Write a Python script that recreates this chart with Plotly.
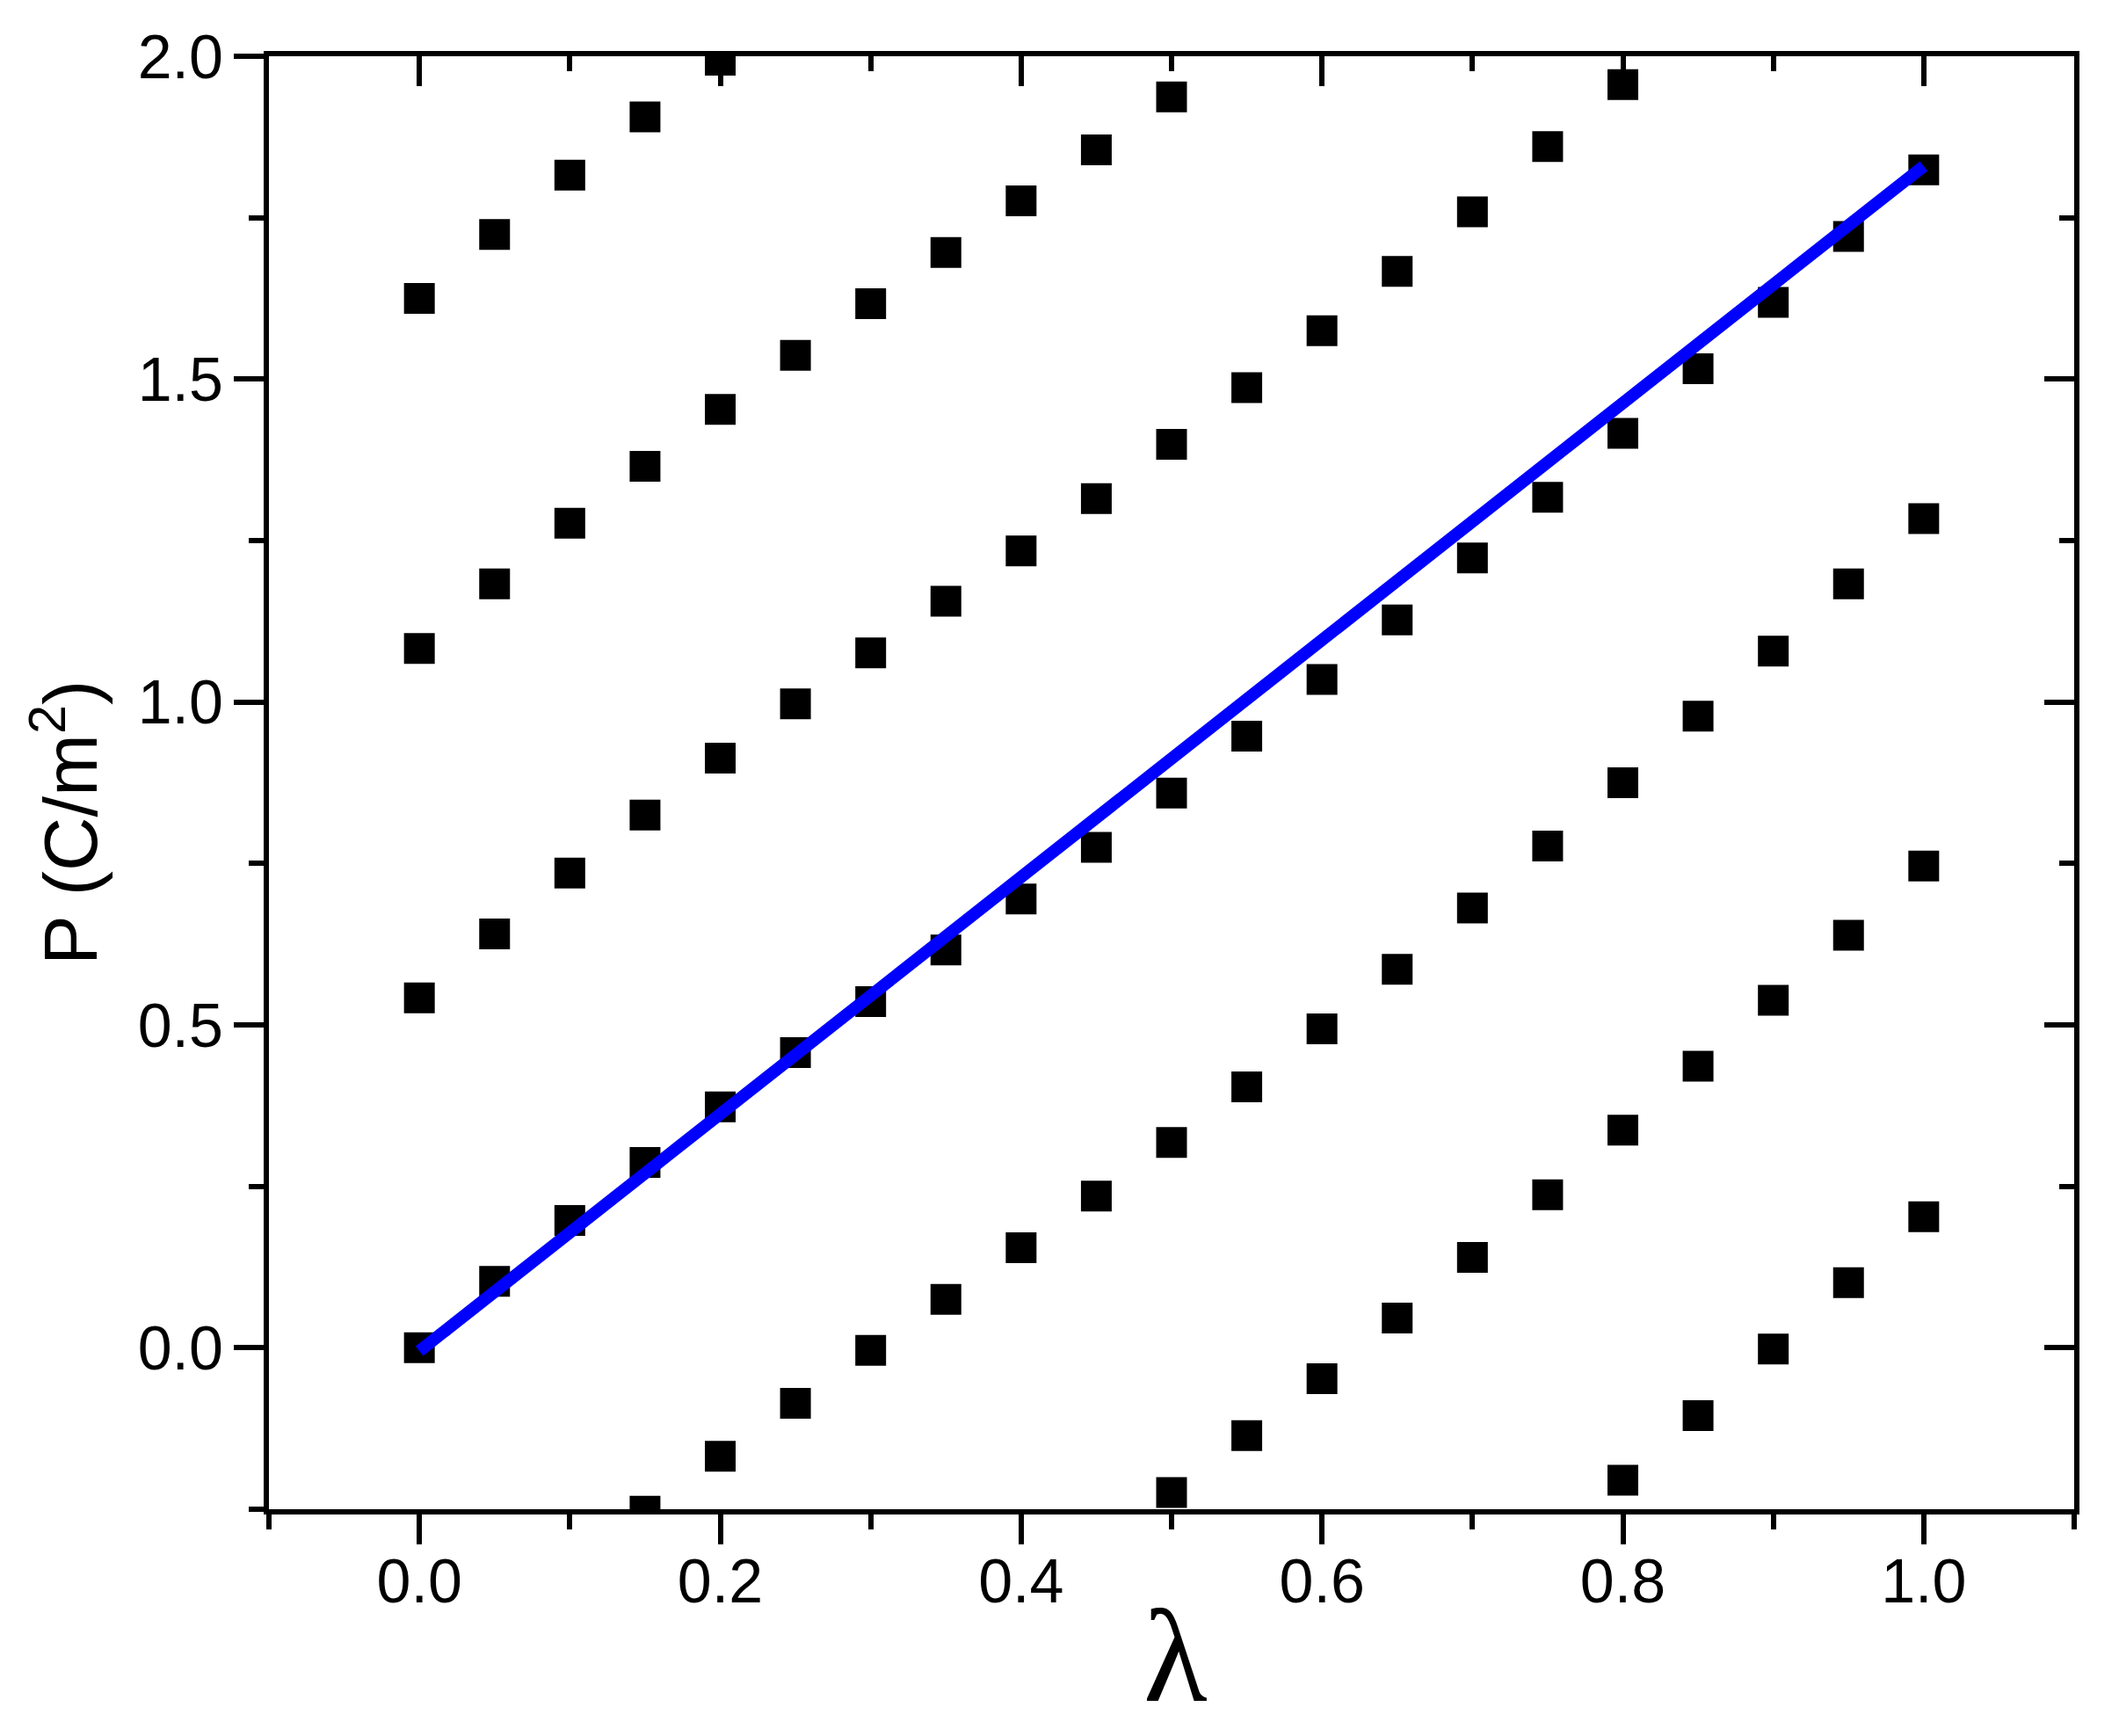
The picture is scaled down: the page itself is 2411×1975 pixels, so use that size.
import plotly.graph_objects as go

# lambda grid (interpolation parameter)
lam = [0.0, 0.05, 0.1, 0.15, 0.2, 0.25, 0.3, 0.35, 0.4, 0.45, 0.5,
       0.55, 0.6, 0.65, 0.7, 0.75, 0.8, 0.85, 0.9, 0.95, 1.0]

# polarization branches (C/m^2), None where off the plotted window
branch_p3 = [1.625, 1.724, 1.816, 1.906, 1.994] + [None] * 16
branch_p2 = [1.083, 1.183, 1.277, 1.365, 1.453, 1.537, 1.617, 1.696, 1.776, 1.855,
             1.937] + [None] * 10
branch_p1 = [0.542, 0.641, 0.735, 0.825, 0.913, 0.997, 1.076, 1.156, 1.234, 1.315,
             1.399, 1.487, 1.575, 1.667, 1.759, 1.860, 1.956] + [None] * 4
branch_0 = [0.0, 0.103, 0.197, 0.287, 0.373, 0.457, 0.536, 0.616, 0.695, 0.775,
            0.859, 0.947, 1.035, 1.127, 1.223, 1.317, 1.416, 1.516, 1.619, 1.721, 1.824]
branch_m1 = [None] * 3 + [-0.253, -0.168, -0.086, -0.004, 0.075, 0.155, 0.235, 0.318,
                          0.404, 0.494, 0.586, 0.681, 0.777, 0.875, 0.978, 1.079, 1.183, 1.284]
branch_m2 = [None] * 10 + [-0.224, -0.136, -0.048, 0.046, 0.140, 0.237, 0.337, 0.436,
                           0.538, 0.639, 0.746]
branch_m3 = [None] * 16 + [-0.205, -0.105, -0.002, 0.101, 0.203]

branches = [branch_p3, branch_p2, branch_p1, branch_0, branch_m1, branch_m2, branch_m3]

# continuous polarization path (fit line)
fit_lam = [0.0, 1.0]
fit_p = [-0.005, 1.83]

x_ticks = [0.0, 0.2, 0.4, 0.6, 0.8, 1.0]
y_ticks = [0.0, 0.5, 1.0, 1.5, 2.0]

# page body has an 8px default margin, so shift everything by that
W, H = 2395, 1959
L, R, T, B = 298, 43, 56, 250
TICK_FONT = dict(family="Liberation Sans, Arial, sans-serif", size=70, color="black")

fig = go.Figure()

xs, ys = [], []
for br in branches:
    for x, y in zip(lam, br):
        if y is not None:
            xs.append(x)
            ys.append(y)

fig.add_trace(go.Scatter(
    x=xs, y=ys, mode="markers",
    marker=dict(symbol="square", size=35, color="black", line=dict(width=0)),
    showlegend=False, hoverinfo="skip",
))
fig.add_trace(go.Scatter(
    x=fit_lam, y=fit_p, mode="lines",
    line=dict(color="#0000ff", width=14),
    showlegend=False, hoverinfo="skip",
))
# empty trace so the top/right mirror axes get drawn
fig.add_trace(go.Scatter(x=[None], y=[None], xaxis="x2", yaxis="y2",
                         showlegend=False, hoverinfo="skip"))

common = dict(showgrid=False, zeroline=False, showline=True, linecolor="black",
              linewidth=6, tickwidth=6, tickcolor="black", ticklen=34)

fig.update_layout(
    width=W, height=H,
    margin=dict(l=L, r=R, t=T, b=B),
    paper_bgcolor="white", plot_bgcolor="white",
    xaxis=dict(range=[-0.1, 1.1], tickvals=x_ticks, tickformat=".1f", ticks="outside",
               tickfont=TICK_FONT, ticklabelstandoff=-18,
               minor=dict(dtick=0.1, tick0=0, ticklen=17, tickwidth=6, tickcolor="black",
                          ticks="outside"),
               **common),
    yaxis=dict(range=[-0.25, 2.0], tickvals=y_ticks, tickformat=".1f", ticks="outside",
               tickfont=TICK_FONT, ticklabelstandoff=-2,
               minor=dict(dtick=0.25, tick0=0, ticklen=17, tickwidth=6, tickcolor="black",
                          ticks="outside"),
               **common),
    xaxis2=dict(range=[-0.1, 1.1], overlaying="x", side="top", tickvals=x_ticks,
                ticks="inside", showticklabels=False,
                minor=dict(dtick=0.1, tick0=0, ticklen=17, tickwidth=6, tickcolor="black",
                           ticks="inside"),
                **common),
    yaxis2=dict(range=[-0.25, 2.0], overlaying="y", side="right", tickvals=y_ticks,
                ticks="inside", showticklabels=False,
                minor=dict(dtick=0.25, tick0=0, ticklen=17, tickwidth=6, tickcolor="black",
                           ticks="inside"),
                **common),
    annotations=[
        dict(text="P (C/m<sup>2</sup>)", textangle=-90, showarrow=False,
             xref="paper", yref="paper", x=(66 - L) / (W - L - R), y=(H - B - 928) / (H - T - B),
             xanchor="center", yanchor="middle",
             font=dict(family="Liberation Sans, Arial, sans-serif", size=85, color="black")),
        dict(text="λ", showarrow=False,
             xref="paper", yref="paper", x=(1329 - L) / (W - L - R), y=(H - B - 1876) / (H - T - B),
             xanchor="center", yanchor="middle",
             font=dict(family="Liberation Serif, Times New Roman, serif", size=150, color="black")),
    ],
)

fig.write_html("out.html")
